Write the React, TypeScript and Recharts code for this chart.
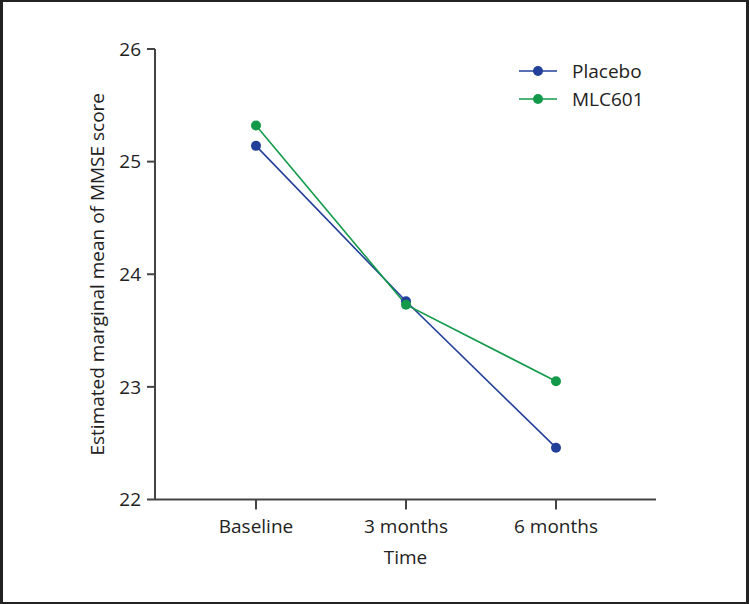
import React from "react";
import { LineChart, Line, XAxis, YAxis, Legend } from "recharts";

const timepoints = ["Baseline", "3 months", "6 months"];
const placeboScores = [25.14, 23.76, 22.46];
const mlc601Scores = [25.32, 23.73, 23.05];
const yTicks = [22, 23, 24, 25, 26];
const seriesNames = ["Placebo", "MLC601"];

const data = timepoints.map((t, i) => ({
  time: t,
  placebo: placeboScores[i],
  mlc601: mlc601Scores[i],
}));

const FONT = "'Open Sans', 'Noto Sans', sans-serif";
const INK = "#222";
const AXIS = "#444";
const BLUE = "#22409a";
const GREEN = "#129a4a";

const renderLegend = (props: any) => {
  const items = [...(props.payload || [])].sort(
    (a: any, b: any) => seriesNames.indexOf(a.value) - seriesNames.indexOf(b.value)
  );
  return (
    <div style={{ fontFamily: FONT }}>
      {items.map((entry: any) => (
        <div key={entry.value} style={{ display: "flex", alignItems: "center", height: 28 }}>
          <svg width={38} height={12}>
            <line x1={0} x2={38} y1={6} y2={6} stroke={entry.color} strokeWidth={1.6} />
            <circle cx={19} cy={6} r={5} fill={entry.color} />
          </svg>
          <span style={{ marginLeft: 15, fontSize: 19, color: INK, lineHeight: "28px" }}>{entry.value}</span>
        </div>
      ))}
    </div>
  );
};

export default function App() {
  return (
    <div style={{ position: "absolute", left: 0, top: 0, width: 749, height: 604, background: "#fff" }}>
      <LineChart
        width={749}
        height={604}
        data={data}
        margin={{ top: 49, right: 93, bottom: 0, left: 0 }}
        style={{ fontFamily: FONT }}
      >
        <XAxis
          dataKey="time"
          height={104.5}
          padding={{ left: 101, right: 100 }}
          axisLine={{ stroke: AXIS, strokeWidth: 2 }}
          tickLine={{ stroke: AXIS, strokeWidth: 2 }}
          tickSize={10}
          tickMargin={10}
          tick={{ fontSize: 19, fill: INK, fontFamily: FONT }}
          label={{ value: "Time", position: "insideBottom", offset: 40, fontSize: 19, fill: INK, fontFamily: FONT }}
        />
        <YAxis
          domain={[22, 26]}
          ticks={yTicks}
          width={155}
          axisLine={{ stroke: AXIS, strokeWidth: 2 }}
          tickLine={{ stroke: AXIS, strokeWidth: 2 }}
          tickSize={8}
          tickMargin={6}
          tick={{ fontSize: 19, fill: INK, fontFamily: FONT }}
          label={{
            value: "Estimated marginal mean of MMSE score",
            angle: -90,
            position: "insideLeft",
            offset: 97,
            fontSize: 19,
            fill: INK,
            fontFamily: FONT,
            style: { textAnchor: "middle" },
          }}
        />
        <Legend
          layout="vertical"
          align="center"
          verticalAlign="middle"
          content={renderLegend}
          wrapperStyle={{ left: 519, top: 57, width: "auto" }}
        />
        <Line
          name="Placebo"
          dataKey="placebo"
          stroke={BLUE}
          strokeWidth={1.6}
          dot={{ r: 5, fill: BLUE, stroke: BLUE, strokeWidth: 0 }}
          activeDot={false}
          isAnimationActive={false}
        />
        <Line
          name="MLC601"
          dataKey="mlc601"
          stroke={GREEN}
          strokeWidth={1.6}
          dot={{ r: 5, fill: GREEN, stroke: GREEN, strokeWidth: 0 }}
          activeDot={false}
          isAnimationActive={false}
        />
      </LineChart>
      <div
        style={{
          position: "absolute",
          inset: 0,
          borderStyle: "solid",
          borderColor: "#222",
          borderWidth: "2px 3px 2px 3px",
          pointerEvents: "none",
        }}
      />
    </div>
  );
}
